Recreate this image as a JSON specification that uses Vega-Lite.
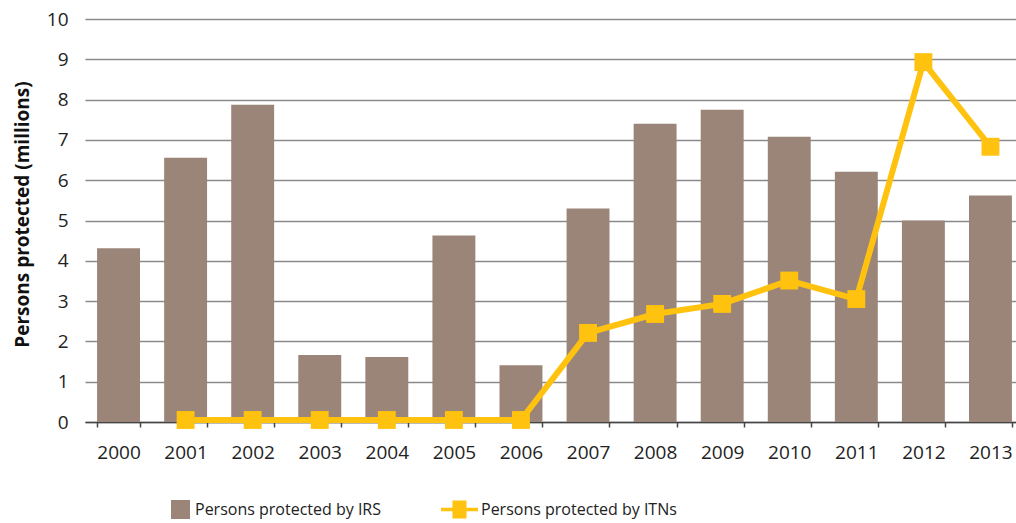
{
  "$schema": "https://vega.github.io/schema/vega-lite/v6.json",
  "width": 931,
  "height": 403,
  "autosize": {"type": "none"},
  "padding": {"left": 85, "top": 19, "right": 0, "bottom": 101},
  "background": "white",
  "config": {
    "font": "Open Sans",
    "view": {"stroke": null},
    "axis": {"labelFont": "Open Sans", "titleFont": "Open Sans"},
    "legend": {"labelFont": "Open Sans"}
  },
  "data": {
    "values": [
      {"year": "2000", "irs": 4.31, "itn": null},
      {"year": "2001", "irs": 6.56, "itn": 0.05},
      {"year": "2002", "irs": 7.87, "itn": 0.05},
      {"year": "2003", "irs": 1.66, "itn": 0.05},
      {"year": "2004", "irs": 1.61, "itn": 0.05},
      {"year": "2005", "irs": 4.63, "itn": 0.05},
      {"year": "2006", "irs": 1.41, "itn": 0.05},
      {"year": "2007", "irs": 5.30, "itn": 2.21},
      {"year": "2008", "irs": 7.40, "itn": 2.68},
      {"year": "2009", "irs": 7.75, "itn": 2.93},
      {"year": "2010", "irs": 7.08, "itn": 3.51},
      {"year": "2011", "irs": 6.21, "itn": 3.05},
      {"year": "2012", "irs": 5.00, "itn": 8.93},
      {"year": "2013", "irs": 5.62, "itn": 6.83}
    ]
  },
  "encoding": {
    "x": {
      "field": "year", "type": "ordinal",
      "scale": {"paddingInner": 0.36, "paddingOuter": 0.18, "range": [0, 939]},
      "axis": {
        "title": null, "labelAngle": 0, "labelFontSize": 19, "labelColor": "#222",
        "labelPadding": 16, "domainColor": "#444", "domainWidth": 1.5,
        "tickColor": "#444", "tickWidth": 1.5, "tickBand": "extent", "tickSize": 5, "grid": false
      }
    }
  },
  "layer": [
    {
      "mark": {"type": "bar", "color": "#9B8579"},
      "encoding": {
        "y": {
          "field": "irs", "type": "quantitative",
          "scale": {"domain": [0, 10]},
          "axis": {
            "title": "Persons protected (millions)", "titleFontSize": 19, "titleFontWeight": "bold",
            "titleColor": "#111", "titleX": -63, "titleY": 195, "titleBaseline": "middle", "titleAlign": "center",
            "labelFontSize": 19, "labelColor": "#222", "labelPadding": 17,
            "tickCount": 10, "domain": false, "ticks": false,
            "grid": true, "gridColor": "#8a8a8a", "gridWidth": 1.3
          }
        },
        "fill": {
          "datum": "Persons protected by IRS",
          "scale": {"range": ["#9B8579"]},
          "legend": {
            "title": null, "orient": "none", "legendX": 86, "legendY": 481,
            "symbolType": "square", "symbolSize": 360, "symbolStrokeWidth": 0,
            "labelFontSize": 16, "labelColor": "#222", "labelOffset": 5, "labelLimit": 400
          }
        }
      }
    },
    {
      "mark": {"type": "line", "strokeWidth": 6},
      "encoding": {
        "y": {"field": "itn", "type": "quantitative"},
        "stroke": {
          "datum": "Persons protected by ITNs",
          "scale": {"range": ["#FFC20E"]},
          "legend": {
            "title": null, "orient": "none", "legendX": 356, "legendY": 472,
            "symbolType": "M-1,-0.1H-0.38V-0.48H0.38V-0.1H1V0.1H0.38V0.48H-0.38V0.1H-1Z",
            "symbolSize": 1369, "symbolStrokeWidth": 0, "symbolFillColor": "#FFC20E",
            "labelFontSize": 16, "labelColor": "#222", "labelOffset": 3, "labelLimit": 400
          }
        }
      }
    },
    {
      "mark": {"type": "point", "shape": "square", "filled": true, "size": 320, "color": "#FFC20E", "opacity": 1},
      "encoding": {
        "y": {"field": "itn", "type": "quantitative"}
      }
    }
  ]
}
